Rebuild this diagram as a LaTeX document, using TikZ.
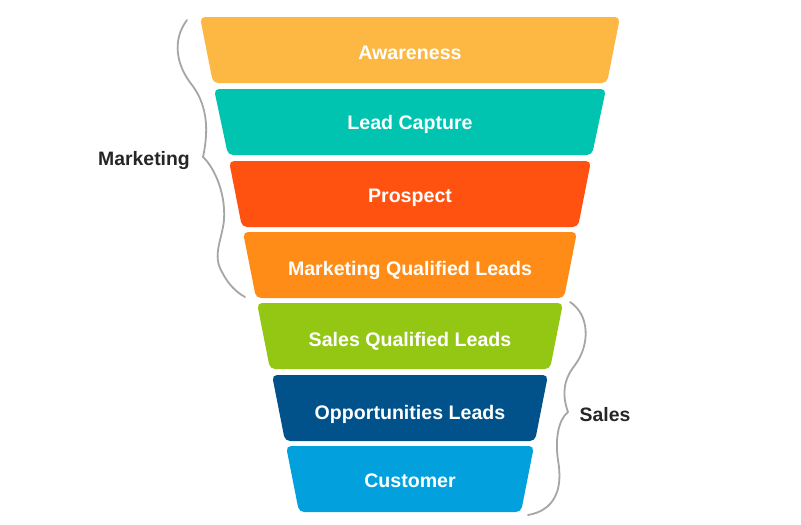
\documentclass[tikz,border=0pt]{standalone}
\usepackage{fontspec}
\setmainfont{Liberation Sans}
\usepackage{tikz}

\definecolor{cAware}{HTML}{FDB843}
\definecolor{cLead}{HTML}{00C4B0}
\definecolor{cProsp}{HTML}{FF5210}
\definecolor{cMql}{HTML}{FF8C16}
\definecolor{cSql}{HTML}{93C713}
\definecolor{cOpp}{HTML}{01518A}
\definecolor{cCust}{HTML}{02A0DD}

\begin{document}
\begin{tikzpicture}[x=1pt,y=-1pt,
  layer/.style={rounded corners=5pt},
  lbl/.style={text=white,font=\fontsize{19.6}{22}\selectfont\bfseries,
    text height=14pt,text depth=0pt,inner sep=0pt},
  side/.style={text=black!85,font=\fontsize{19.4}{22}\selectfont\bfseries,
    text height=14pt,text depth=0pt,inner sep=0pt},
  bracket/.style={draw=black!35,line width=1.8pt,line cap=round,line join=round}]
  \fill[white] (0,0) rectangle (801,525);
  \useasboundingbox (0,0) rectangle (801,525);

  \fill[layer,cAware] (200,17) -- (620,17) -- (607,83) -- (213,83) -- cycle;
  \node[lbl] (aware) at (410,52) {Awareness};
  \fill[layer,cLead] (214,89) -- (606,89) -- (592,155) -- (228,155) -- cycle;
  \node[lbl] (lead) at (410,122) {Lead Capture};
  \fill[layer,cProsp] (229,161) -- (591,161) -- (578,227) -- (242,227) -- cycle;
  \node[lbl] (prosp) at (410,195) {Prospect};
  \fill[layer,cMql] (243,232) -- (577,232) -- (564,298) -- (256,298) -- cycle;
  \node[lbl] (mql) at (410,268) {Marketing Qualified Leads};
  \fill[layer,cSql] (257,303) -- (563,303) -- (550,369) -- (270,369) -- cycle;
  \node[lbl] (sql) at (410,339) {Sales Qualified Leads};
  \fill[layer,cOpp] (272,375) -- (548,375) -- (535,441) -- (285,441) -- cycle;
  \node[lbl] (opp) at (410,412) {Opportunities Leads};
  \fill[layer,cCust] (286,446) -- (534,446) -- (521,512) -- (299,512) -- cycle;
  \node[lbl] (cust) at (410,480) {Customer};

  % left bracket
  \draw[bracket] (187,20) .. controls (172,40) and (176,65) .. (192,85)
    .. controls (205,102) and (210,125) .. (203,157)
    .. controls (212,165) and (226,190) .. (224,220)
    .. controls (222,240) and (212,255) .. (222,272)
    .. controls (228,284) and (236,292) .. (245,297);
  \node[side] (mkt) at (144,158) {Marketing};

  % right bracket
  \draw[bracket] (570,302) .. controls (590,315) and (590,345) .. (575,365)
    .. controls (563,380) and (562,395) .. (568,412)
    .. controls (558,420) and (555,440) .. (558,460)
    .. controls (561,478) and (560,495) .. (548,506)
    .. controls (541,512) and (534,514) .. (528,515);
  \node[side] (sales) at (605,414) {Sales};
\end{tikzpicture}
\end{document}
